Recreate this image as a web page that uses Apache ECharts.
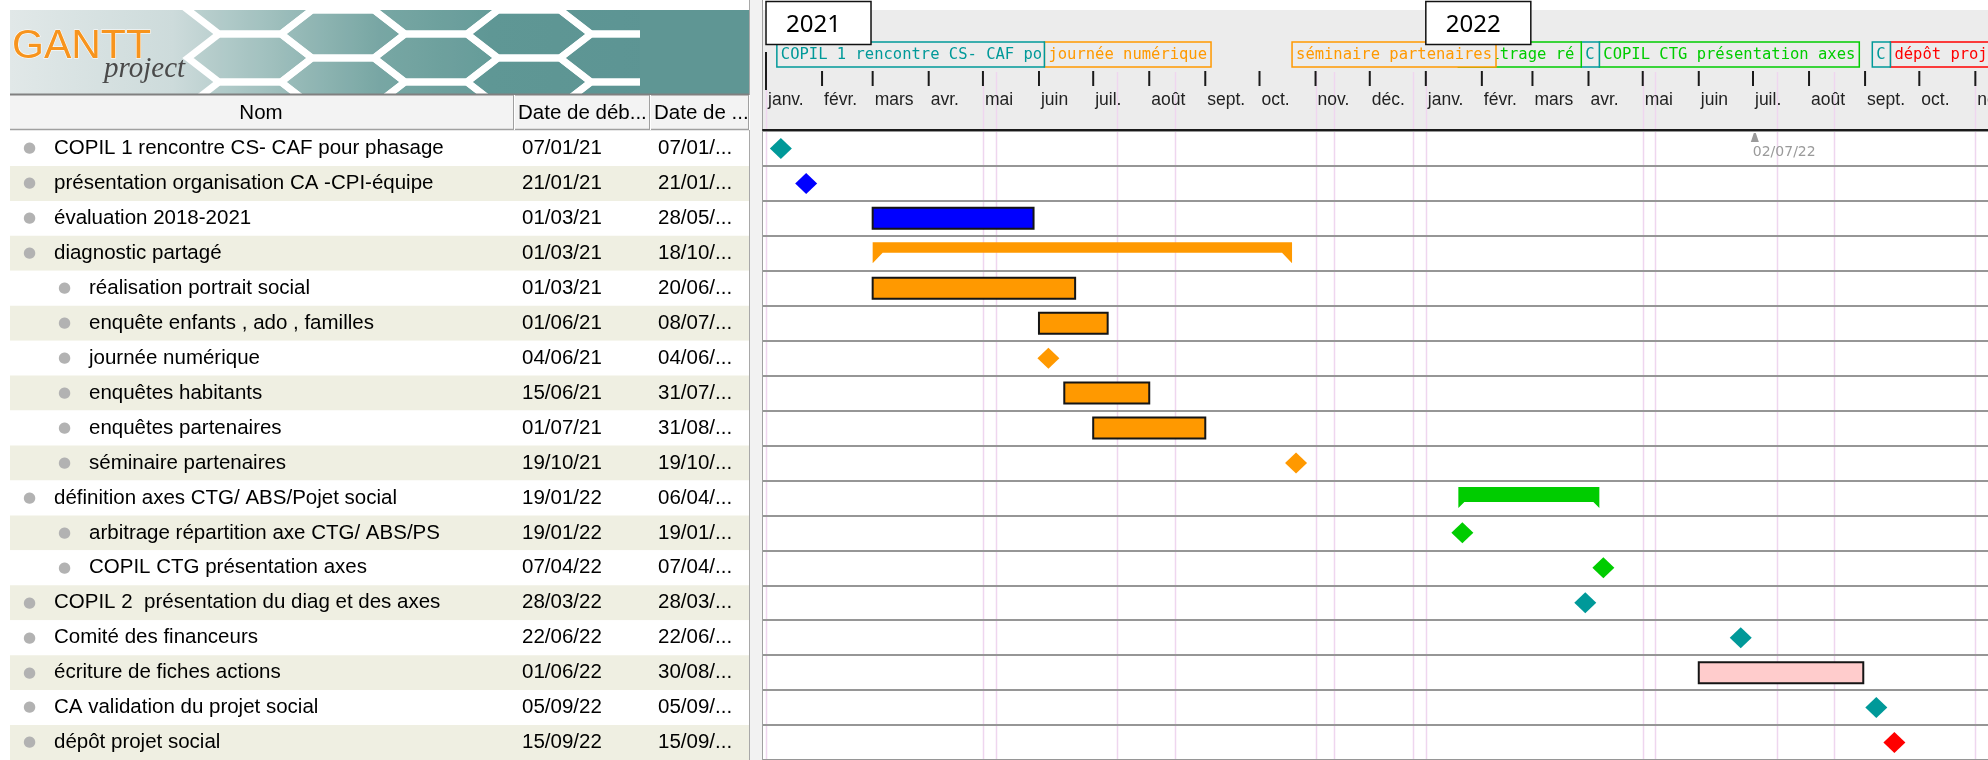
<!DOCTYPE html>
<html><head><meta charset="utf-8">
<script src="https://cdn.jsdelivr.net/npm/echarts@6/dist/echarts.min.js"></script>
<style>html,body{margin:0;padding:0;background:#fff}#c{width:1988px;height:760px}</style>
</head><body><div id="c"></div>
<script>
// ---------------- DATA ----------------
const taskNames = [
  'COPIL 1 rencontre CS- CAF pour phasage',
  'présentation organisation CA -CPI-équipe',
  'évaluation 2018-2021',
  'diagnostic partagé',
  'réalisation portrait social',
  'enquête enfants , ado , familles',
  'journée numérique',
  'enquêtes habitants',
  'enquêtes partenaires',
  'séminaire partenaires',
  'définition axes CTG/ ABS/Pojet social',
  'arbitrage répartition axe CTG/ ABS/PS',
  'COPIL CTG présentation axes',
  'COPIL 2  présentation du diag et des axes',
  'Comité des financeurs',
  'écriture de fiches actions',
  'CA validation du projet social',
  'dépôt projet social'
];
const taskLevels = [0,0,0,0,1,1,1,1,1,1,0,1,1,0,0,0,0,0];
const startDates = ['07/01/21','21/01/21','01/03/21','01/03/21','01/03/21','01/06/21','04/06/21','15/06/21','01/07/21','19/10/21','19/01/22','19/01/22','07/04/22','28/03/22','22/06/22','01/06/22','05/09/22','15/09/22'];
const endDates   = ['07/01/21','21/01/21','28/05/21','18/10/21','20/06/21','08/07/21','04/06/21','31/07/21','31/08/21','19/10/21','06/04/22','19/01/22','07/04/22','28/03/22','22/06/22','30/08/22','05/09/22','15/09/22'];
const taskKinds  = ['milestone','milestone','task','summary','task','task','milestone','task','task','milestone','summary','milestone','milestone','milestone','milestone','task','milestone','milestone'];
// tasks shown in the timeline header (in date order)
const timelineTasks = [0, 6, 9, 11, 13, 12, 16, 17];
const years = [2021, 2022];
const monthLabels = ['janv.','févr.','mars','avr.','mai','juin','juil.','août','sept.','oct.','nov.','déc.'];
const holidays = ['01/01/21','01/05/21','08/05/21','14/07/21','15/08/21','01/11/21','11/11/21','25/12/21','01/01/22','01/05/22','08/05/22','14/07/22','15/08/22','01/11/22'];
const markerDate = '02/07/22';
const columnHeaders = ['Nom', 'Date de déb...', 'Date de ...'];

// ---------------- STYLES ----------------
const taskColors = ['#009999','#0000ff','#0000ff','#ff9900','#ff9900','#ff9900','#ff9900','#ff9900','#ff9900','#ff9900','#00cc00','#00cc00','#00cc00','#009999','#009999','#ffcccc','#009999','#ff0000'];
const summaryStyle = {3: {bar: 10.5, foot: 10}, 10: {bar: 15, foot: 6}};

// ---------------- HELPERS ----------------
const DAY = 86400000;
function toTime(s){ const p = s.split('/').map(Number); return new Date(2000 + p[2], p[1] - 1, p[0]).getTime(); }
const T0 = new Date(2020, 11, 30, 8).getTime();
const T1 = new Date(2022, 10, 8).getTime();
const monthStarts = [];
for (let y = 2021, m = 0; ; m++) {
  if (m > 11) { m = 0; y++; }
  const t = new Date(y, m, 1).getTime();
  if (t > T1) break;
  monthStarts.push([t, 0, m]);
}
const LBL_FONT = '15.5px "DejaVu Sans Mono"';
const mctx = document.createElement('canvas').getContext('2d');
mctx.font = LBL_FONT;
function textW(s){ return mctx.measureText(s).width; }
const FONT = '"Liberation Sans", Arial, sans-serif';

// ---------------- DECORATION (logo banner, headers) ----------------
const deco = [];
deco.push({type:'rect', z:0, shape:{x:763, y:10, width:1225, height:120}, style:{fill:'#ececec'}});
deco.push({type:'line', z:0, shape:{x1:763, y1:129.5, x2:1988, y2:129.5}, style:{stroke:'#b0b0b0', lineWidth:1}});
deco.push({type:'rect', z:0, shape:{x:749, y:0, width:14, height:760}, style:{fill:'#f2f2f2'}});
deco.push({type:'line', z:0, shape:{x1:749.5, y1:0, x2:749.5, y2:760}, style:{stroke:'#a8a8a8', lineWidth:1}});
deco.push({type:'line', z:0, shape:{x1:762.5, y1:0, x2:762.5, y2:760}, style:{stroke:'#a0a0a0', lineWidth:1}});
deco.push({type:'line', z:7, shape:{x1:766, y1:52, x2:766, y2:90}, style:{stroke:'#1a1a1a', lineWidth:2}});
// banner
deco.push({type:'rect', z:1, shape:{x:10, y:10, width:739, height:84}, style:{
  fill: new echarts.graphic.LinearGradient(0,0,1,0,[
    {offset:0, color:'#e1e8e8'}, {offset:0.22, color:'#cddbdb'}, {offset:0.34, color:'#a9c5c4'},
    {offset:0.5, color:'#78a6a4'}, {offset:0.65, color:'#639a98'}, {offset:1, color:'#5f9694'}])}});
const hexA = 62, hexB = 24;
[250, 343, 436, 529, 622].forEach((cx, ci) => {
  const base = ci % 2 ? -14 : 10;
  for (let k = 0; k < 4; k++) {
    const cy = base + k * 48;
    if (cy > 120) continue;
    deco.push({type:'polygon', z:2, shape:{points:[[cx-hexA,cy],[cx-hexA/2,cy-hexB],[cx+hexA/2,cy-hexB],[cx+hexA,cy],[cx+hexA/2,cy+hexB],[cx-hexA/2,cy+hexB]]},
      style:{fill: ci > 2 ? 'rgba(80,140,138,0.18)' : 'rgba(120,170,168,0.12)', stroke:'#ffffff', lineWidth:7}});
  }
});
deco.push({type:'rect', z:3, shape:{x:0, y:0, width:749, height:10}, style:{fill:'#ffffff'}});
deco.push({type:'rect', z:3, shape:{x:0, y:10, width:10, height:84}, style:{fill:'#ffffff'}});
deco.push({type:'rect', z:3, shape:{x:640, y:10, width:109, height:84}, style:{fill:'#5f9694'}});
deco.push({type:'text', z:4, style:{x:12, y:26, text:'GANTT', font:'41px "Liberation Sans"', fill:'#f7941d', verticalAlign:'top', stroke:'#ffffff', lineWidth:1}});
deco.push({type:'text', z:4, style:{x:104, y:55, text:'project', font:'italic 29px "Liberation Serif"', fill:'#4a4a4a', verticalAlign:'top'}});
// table header row
deco.push({type:'rect', z:4, shape:{x:10, y:94, width:739, height:36}, style:{fill:'#f3f3f3'}});
deco.push({type:'line', z:5, shape:{x1:10, y1:94.5, x2:749, y2:94.5}, style:{stroke:'#808080', lineWidth:2}});
deco.push({type:'line', z:5, shape:{x1:10, y1:129.5, x2:749, y2:129.5}, style:{stroke:'#a0a0a0', lineWidth:1.5}});
[513.5, 649.5, 748.5].forEach(x => {
  deco.push({type:'line', z:5, shape:{x1:x, y1:95, x2:x, y2:130}, style:{stroke:'#a0a0a0', lineWidth:1}});
  deco.push({type:'line', z:5, shape:{x1:x+1, y1:95, x2:x+1, y2:130}, style:{stroke:'#ffffff', lineWidth:1}});
});
deco.push({type:'text', z:6, x:261, y:113, style:{text:columnHeaders[0], font:'20.5px ' + FONT, fill:'#000', align:'center', verticalAlign:'middle'}});
deco.push({type:'text', z:6, x:518, y:113, style:{text:columnHeaders[1], font:'20.5px ' + FONT, fill:'#000', verticalAlign:'middle'}});
deco.push({type:'text', z:6, x:654, y:113, style:{text:columnHeaders[2], font:'20.5px ' + FONT, fill:'#000', verticalAlign:'middle'}});

// ---------------- CHART ----------------
const chart = echarts.init(document.getElementById('c'), null, {renderer:'canvas'});
const tableLabel = {fontSize: 20.5, fontFamily: FONT, color: '#000', align: 'left', verticalAlign: 'middle', interval: 0};
const option = {
  animation: false,
  backgroundColor: '#ffffff',
  graphic: {elements: deco},
  grid: [
    {left: 10, top: 131, width: 739, height: 632},
    {left: 763, top: 131, right: 0, height: 632},
    {left: 763, top: 71, right: 0, height: 59}
  ],
  xAxis: [
    {gridIndex: 0, type: 'value', min: 0, max: 1, show: false},
    {gridIndex: 1, type: 'time', min: T0, max: T1, show: false},
    {gridIndex: 2, type: 'time', min: T0, max: T1, position: 'top', z: 5,
      axisLine: {show: true, lineStyle: {color: '#1a1a1a', width: 2}},
      axisTick: {show: false}, axisLabel: {show: false}, splitLine: {show: false}}
  ],
  yAxis: [
    {gridIndex: 0, type: 'category', data: taskNames, inverse: true,
      axisLine: {show: false}, axisTick: {show: false}, splitLine: {show: false},
      splitArea: {show: true, interval: 0, areaStyle: {color: ['#ffffff', '#efefe2']}},
      axisLabel: Object.assign({}, tableLabel, {margin: -13,
        formatter: (v, i) => (taskLevels[i] ? '{s|\u00a0}' : '') + '{b|●}{t|' + v + '}',
        rich: {
          s: {width: 35, fontSize: 11},
          b: {width: 31, fontSize: 15, fontFamily: '"DejaVu Sans"', color: '#b2b2b2'},
          t: {fontSize: 20.5, fontFamily: FONT, color: '#000'}
        }})},
    {gridIndex: 0, type: 'category', data: taskNames, inverse: true, position: 'left',
      axisLine: {show: false}, axisTick: {show: false}, splitLine: {show: false},
      axisLabel: Object.assign({}, tableLabel, {margin: -512, formatter: (v, i) => startDates[i]})},
    {gridIndex: 0, type: 'category', data: taskNames, inverse: true, position: 'left',
      axisLine: {show: false}, axisTick: {show: false}, splitLine: {show: false},
      axisLabel: Object.assign({}, tableLabel, {margin: -648, formatter: (v, i) => endDates[i].slice(0, 6) + '...'})},
    {gridIndex: 1, type: 'category', data: taskNames, inverse: true, z: 3,
      axisLine: {show: false}, axisTick: {show: false}, axisLabel: {show: false},
      splitLine: {show: true, interval: 0, lineStyle: {color: '#969696', width: 2}}},
    {gridIndex: 2, type: 'value', min: 0, max: 1, show: false}
  ],
  series: [
    { // holidays
      type: 'custom', xAxisIndex: 1, yAxisIndex: 3, z: 1, clip: false, silent: true,
      data: holidays.map(h => [toTime(h), 0]),
      encode: {x: 0, y: 1},
      renderItem: (params, api) => {
        const x = Math.round(api.coord([api.value(0), 0])[0]) + 0.5;
        return {type: 'line', shape: {x1: x, y1: 72, x2: x, y2: 760}, style: {stroke: '#efd6ef', lineWidth: 1.5}};
      }
    },
    { // tasks
      type: 'custom', xAxisIndex: 1, yAxisIndex: 3, z: 4, clip: false,
      data: taskNames.map((n, i) => [toTime(startDates[i]), toTime(endDates[i]) + DAY, i]),
      encode: {x: [0, 1], y: 2},
      renderItem: (params, api) => {
        const i = api.value(2);
        const color = taskColors[i];
        const p1 = api.coord([api.value(0), i]);
        const p2 = api.coord([api.value(1), i]);
        const yc = p1[1];
        if (taskKinds[i] === 'milestone') {
          const cx = p1[0] + 4, hw = 11, hh = 10.5;
          return {type: 'polygon', shape: {points: [[cx, yc - hh], [cx + hw, yc], [cx, yc + hh], [cx - hw, yc]]}, style: {fill: color}};
        }
        if (taskKinds[i] === 'summary') {
          const st = summaryStyle[i];
          const top = yc - 11, bar = top + st.bar, bot = top + 21, f = st.foot;
          return {type: 'polygon', shape: {points: [[p1[0], top], [p2[0], top], [p2[0], bot], [p2[0] - f, bar], [p1[0] + f, bar], [p1[0], bot]]}, style: {fill: color}};
        }
        return {type: 'rect', shape: {x: p1[0], y: yc - 10.5, width: p2[0] - p1[0], height: 21}, style: {fill: color, stroke: '#151515', lineWidth: 2}};
      }
    },
    { // reference date marker
      type: 'custom', xAxisIndex: 1, yAxisIndex: 3, z: 4, clip: false,
      data: [[toTime(markerDate), 0]],
      encode: {x: 0, y: 1},
      renderItem: (params, api) => {
        const x = api.coord([api.value(0), 0])[0];
        return {type: 'group', children: [
          {type: 'polygon', shape: {points: [[x - 4, 142], [x - 1, 133], [x + 1, 133], [x + 4, 142]]}, style: {fill: '#9a9a9a'}},
          {type: 'text', style: {x: x - 2, y: 152.5, text: markerDate, font: '14px "DejaVu Sans"', fill: '#9a9a9a', verticalAlign: 'middle'}}
        ]};
      }
    },
    { // month ticks and labels
      type: 'custom', xAxisIndex: 2, yAxisIndex: 4, z: 4, clip: false,
      data: monthStarts,
      encode: {x: 0, y: 1},
      renderItem: (params, api) => {
        const x = api.coord([api.value(0), 0])[0];
        return {type: 'group', children: [
          {type: 'line', shape: {x1: x, y1: 71, x2: x, y2: 86}, style: {stroke: '#1a1a1a', lineWidth: 2}},
          {type: 'text', style: {x: x + 2, y: 100, text: monthLabels[api.value(2)], font: '17.5px ' + FONT, fill: '#222', verticalAlign: 'middle'}}
        ]};
      }
    },
    { // timeline labels
      type: 'custom', xAxisIndex: 2, yAxisIndex: 4, z: 5, clip: false,
      data: timelineTasks.map(k => [toTime(startDates[k]), 0, k]),
      encode: {x: 0, y: 1},
      renderItem: (params, api) => {
        const i = params.dataIndex;
        const xs = timelineTasks.map(k => api.coord([toTime(startDates[k]), 0])[0]);
        const k = timelineTasks[i];
        const left = xs[i];
        const text = taskNames[k];
        const natural = left + 4 + textW(text) + 4;
        let right = natural;
        if (i + 1 < xs.length && natural - xs[i + 1] > 60) right = xs[i + 1];
        const color = taskColors[k];
        const zz = 2 * (100 - i);
        return {type: 'group', children: [
          {type: 'rect', z2: zz, shape: {x: left, y: 42, width: right - left, height: 25}, style: {fill: '#ececec', stroke: color, lineWidth: 1.5}},
          {type: 'text', z2: zz + 1, style: {x: left + 4, y: 55, text: text, font: LBL_FONT, fill: color, verticalAlign: 'middle',
            width: right - left - 5, overflow: 'truncate', ellipsis: ''}}
        ]};
      }
    },
    { // year boxes
      type: 'custom', xAxisIndex: 2, yAxisIndex: 4, z: 6, clip: false,
      data: years.map(y => [new Date(y, 0, 1).getTime(), 0, y]),
      encode: {x: 0, y: 1},
      renderItem: (params, api) => {
        const x = api.coord([api.value(0), 0])[0];
        return {type: 'group', children: [
          {type: 'rect', shape: {x: x, y: 1.5, width: 105, height: 43}, style: {fill: '#ffffff', stroke: '#111', lineWidth: 1.5}},
          {type: 'text', style: {x: x + 20, y: 25, text: String(api.value(2)), font: '24px "Noto Sans"', fill: '#000', verticalAlign: 'middle'}}
        ]};
      }
    }
  ]
};
chart.setOption(option);
</script>
</body></html>
